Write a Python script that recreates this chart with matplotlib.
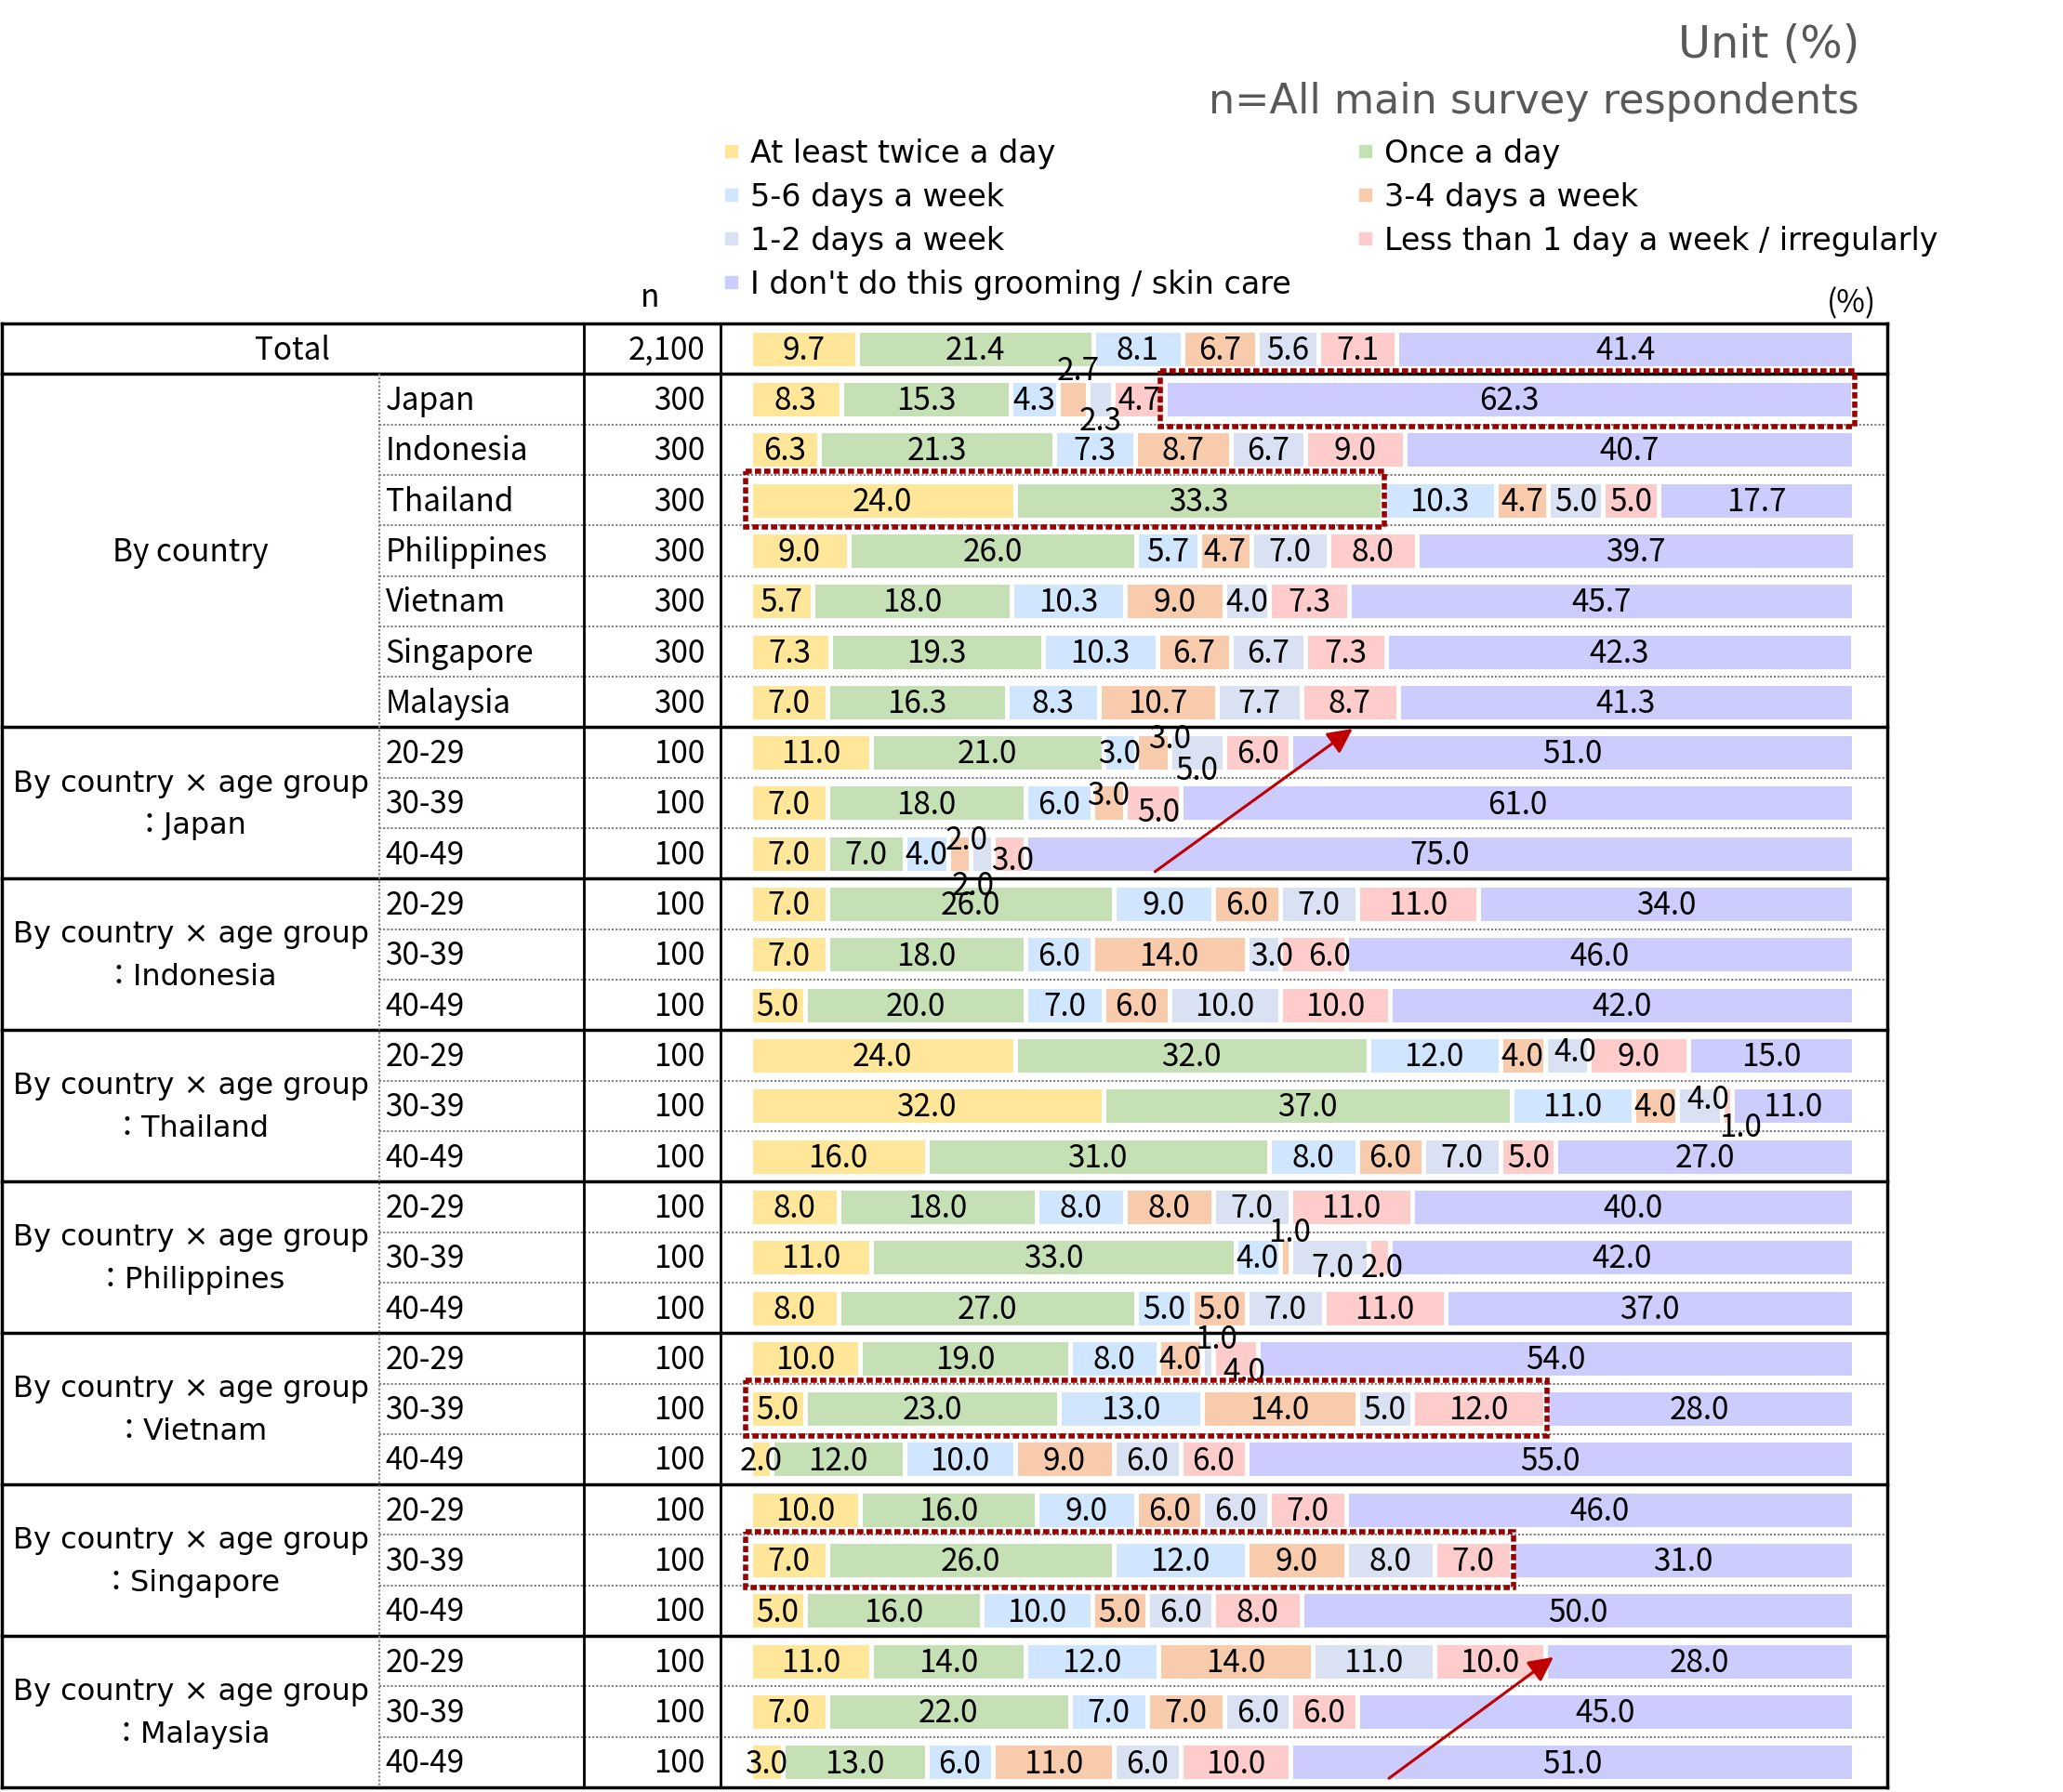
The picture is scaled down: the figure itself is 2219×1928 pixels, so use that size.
import numpy as np
import matplotlib.pyplot as plt
from matplotlib.patches import Rectangle

plt.rcParams['font.family'] = ['Noto Sans CJK JP', 'DejaVu Sans']
wide_font = ['DejaVu Sans', 'Noto Sans CJK JP']

categories = ['At least twice a day', 'Once a day', '5-6 days a week', '3-4 days a week',
              '1-2 days a week', 'Less than 1 day a week / irregularly',
              "I don't do this grooming / skin care"]
colors = ['#FFE699', '#C5E0B4', '#D0E6FF', '#F8CBAD', '#D9E1F2', '#FFCCCC', '#CCCCFF']

countries = ['Japan', 'Indonesia', 'Thailand', 'Philippines', 'Vietnam', 'Singapore', 'Malaysia']
ages = ['20-29', '30-39', '40-49']
n_total = '2,100'
n_country = '300'
n_age = '100'

# rows: Total, 7 countries, then 7 countries x 3 age groups
twice = [9.7, 8.3, 6.3, 24.0, 9.0, 5.7, 7.3, 7.0,
         11, 7, 7, 7, 7, 5, 24, 32, 16, 8, 11, 8, 10, 5, 2, 10, 7, 5, 11, 7, 3]
once = [21.4, 15.3, 21.3, 33.3, 26.0, 18.0, 19.3, 16.3,
        21, 18, 7, 26, 18, 20, 32, 37, 31, 18, 33, 27, 19, 23, 12, 16, 26, 16, 14, 22, 13]
d56 = [8.1, 4.3, 7.3, 10.3, 5.7, 10.3, 10.3, 8.3,
       3, 6, 4, 9, 6, 7, 12, 11, 8, 8, 4, 5, 8, 13, 10, 9, 12, 10, 12, 7, 6]
d34 = [6.7, 2.7, 8.7, 4.7, 4.7, 9.0, 6.7, 10.7,
       3, 3, 2, 6, 14, 6, 4, 4, 6, 8, 1, 5, 4, 14, 9, 6, 9, 5, 14, 7, 11]
d12 = [5.6, 2.3, 6.7, 5.0, 7.0, 4.0, 6.7, 7.7,
       5, 0, 2, 7, 3, 10, 4, 4, 7, 7, 7, 7, 1, 5, 6, 6, 8, 6, 11, 6, 6]
less = [7.1, 4.7, 9.0, 5.0, 8.0, 7.3, 7.3, 8.7,
        6, 5, 3, 11, 6, 10, 9, 1, 5, 11, 2, 11, 4, 12, 6, 7, 7, 8, 10, 6, 10]
none = [41.4, 62.3, 40.7, 17.7, 39.7, 45.7, 42.3, 41.3,
        51, 61, 75, 34, 46, 42, 15, 11, 27, 40, 42, 37, 54, 28, 55, 46, 31, 50, 28, 45, 51]

series = np.array([twice, once, d56, d34, d12, less, none]).T
nrows = series.shape[0]

# small labels moved off their segment like excel does: (row, seg): (dx %, dy rows)
label_shift = {(1, 3): (0.5, -0.6), (1, 4): (0, 0.41),
               (8, 3): (1.5, -0.3), (8, 4): (0, 0.33),
               (9, 3): (0, -0.18), (9, 5): (0.5, 0.15),
               (10, 3): (0.6, -0.29), (10, 4): (-0.8, 0.6), (10, 5): (0.3, 0.12),
               (12, 4): (0.8, 0), (12, 5): (1.5, 0),
               (14, 4): (0.8, -0.1),
               (15, 4): (0.8, -0.15), (15, 5): (1.2, 0.4),
               (18, 3): (0.4, -0.53), (18, 4): (0.3, 0.17), (18, 5): (0.3, 0.17),
               (20, 4): (0.7, -0.4), (20, 5): (0.8, 0.23)}

W, H = 2219, 1928
fig = plt.figure(figsize=(W / 100, H / 100), dpi=100)
ax0 = fig.add_axes([0, 0, 1, 1])
ax0.set_xlim(0, W)
ax0.set_ylim(H, 0)
ax0.axis('off')

top, row_h = 348, 54.31
bottom = top + nrows * row_h
x_left, x_item, x_n, x_bar, x_right = 2, 407.5, 627.5, 775, 2030
bar_x0, bar_x1 = 806.5, 1994

axb = fig.add_axes([bar_x0 / W, 1 - bottom / H, (bar_x1 - bar_x0) / W, (bottom - top) / H])
axb.set_xlim(0, 100)
axb.set_ylim(nrows, 0)
axb.axis('off')

# bars + labels
ypos = np.arange(nrows) + 0.5
left = np.zeros(nrows)
for k in range(len(categories)):
    axb.barh(ypos, series[:, k], left=left, height=0.755, color=colors[k],
             edgecolor='white', linewidth=3.6)
    for i in range(nrows):
        v = series[i, k]
        if v <= 0:
            continue
        dx, dy = label_shift.get((i, k), (0, 0))
        axb.text(left[i] + v / 2 + dx, ypos[i] + 0.04 + dy, f'{v:.1f}',
                 ha='center', va='center', fontsize=24, clip_on=False)
    left += series[:, k]

# red dotted highlight boxes
cum = np.cumsum(series, axis=1)
starts = cum - series
boxes = [(1, 6, 6), (3, 0, 1), (21, 0, 5), (24, 0, 5)]
for r, a, b in boxes:
    x0 = starts[r, a] - 0.4
    x1 = cum[r, b] + 0.2
    axb.add_patch(Rectangle((x0, r - 0.07), x1 - x0, 1.11, fill=False,
                            edgecolor='#990000', lw=4, linestyle=(0, (1.2, 0.6)),
                            clip_on=False, zorder=4))

# red arrows
arrows = [((36.7, 10.86), (54.6, 8.03)), ((57.9, 28.82), (72.8, 26.42))]
for tail, tip in arrows:
    axb.annotate('', xy=tip, xytext=tail, annotation_clip=False,
                 arrowprops=dict(arrowstyle='-|>', color='#C00000', lw=2.2,
                                 mutation_scale=40, shrinkA=0, shrinkB=0))

# table grid
thick = 2.5
group_end = [0, 7, 10, 13, 16, 19, 22, 25, 28]
ax0.plot([x_left, x_right], [top, top], color='black', lw=thick, solid_capstyle='projecting')
for r in range(nrows):
    y = top + (r + 1) * row_h
    if r in group_end:
        ax0.plot([x_left, x_right], [y, y], color='black', lw=thick, solid_capstyle='projecting')
    else:
        ax0.plot([x_item, x_right], [y, y], color='#7F7F7F', lw=1.5, linestyle=(0, (1, 1)))
for x in [x_left, x_right]:
    ax0.plot([x, x], [top, bottom], color='black', lw=thick, solid_capstyle='projecting')
for x in [x_n, x_bar]:
    ax0.plot([x, x], [top, bottom], color='black', lw=2)
ax0.plot([x_item, x_item], [top + row_h, bottom], color='#7F7F7F', lw=1.5, linestyle=(0, (1, 1)))

# table texts
fs = 24
def yc(r):
    return top + (r + 0.5) * row_h

ax0.text((x_left + x_n) / 2, yc(0) + 11.5, 'Total', ha='center', va='baseline', fontsize=fs)
ax0.text(758, yc(0) + 11.5, n_total, ha='right', va='baseline', fontsize=fs)
for j, c in enumerate(countries):
    ax0.text(x_item + 7, yc(1 + j) + 11.5, c, ha='left', va='baseline', fontsize=fs)
    ax0.text(758, yc(1 + j) + 11.5, n_country, ha='right', va='baseline', fontsize=fs)
ax0.text(205, (yc(1) + yc(7)) / 2 + 11.5, 'By country', ha='center', va='baseline', fontsize=fs)
for g, c in enumerate(countries):
    r0 = 8 + 3 * g
    for a, age in enumerate(ages):
        ax0.text(x_item + 7, yc(r0 + a) + 11.5, age, ha='left', va='baseline', fontsize=fs)
        ax0.text(758, yc(r0 + a) + 11.5, n_age, ha='right', va='baseline', fontsize=fs)
    ax0.text(205, yc(r0 + 1) + 2, 'By country × age group\n：' + c, ha='center', va='center',
             fontsize=23, linespacing=1.62, family=wide_font)

# header texts
ax0.text(699, 330, 'n', ha='center', va='baseline', fontsize=fs)
ax0.text(1991, 336, '(%)', ha='center', va='baseline', fontsize=fs)
ax0.text(2000, 62, 'Unit (%)', ha='right', va='baseline', fontsize=34.5, color='#595959',
         family=wide_font)
ax0.text(2000, 122, 'n=All main survey respondents', ha='right', va='baseline',
         fontsize=32, color='#595959', family=wide_font)

# legend
leg_x = [786, 1468]
for k, cat in enumerate(categories):
    x = leg_x[k % 2]
    y = 162 + (k // 2) * 47
    ax0.add_patch(Rectangle((x - 6.5, y - 6.5), 13, 13, color=colors[k]))
    ax0.text(x + 21, y + 13, cat, ha='left', va='baseline', fontsize=24, family=wide_font)

fig.savefig('out.png', dpi=100)
